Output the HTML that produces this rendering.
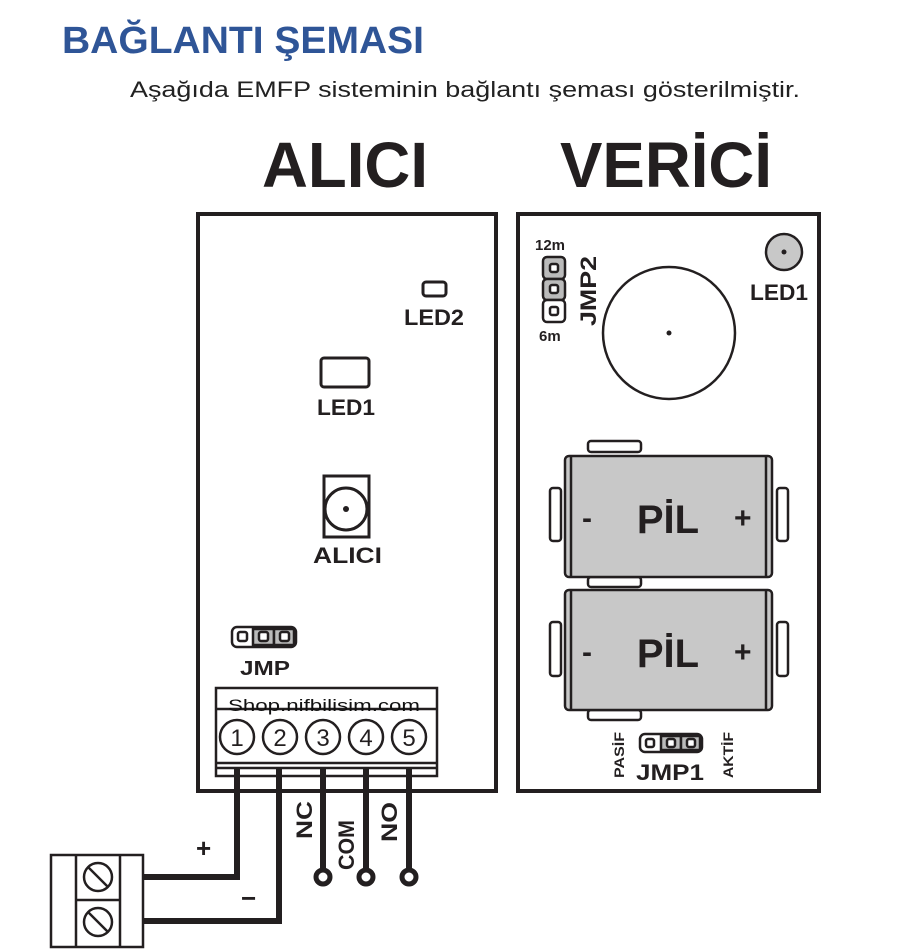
<!DOCTYPE html>
<html><head><meta charset="utf-8"><style>
html,body{margin:0;padding:0;background:#fff;}
svg{display:block}
text{font-family:"Liberation Sans",sans-serif;}
</style></head><body>
<svg width="906" height="950" viewBox="0 0 906 950" xmlns="http://www.w3.org/2000/svg">
<text x="62" y="53" font-size="38" font-weight="bold" fill="#2f5597" textLength="362" lengthAdjust="spacingAndGlyphs">BAĞLANTI ŞEMASI</text>
<text x="130" y="97" font-size="22" fill="#222" textLength="670" lengthAdjust="spacingAndGlyphs">Aşağıda EMFP sisteminin bağlantı şeması gösterilmiştir.</text>
<text x="262" y="187" font-size="64" font-weight="bold" fill="#231f20" textLength="166" lengthAdjust="spacingAndGlyphs">ALICI</text>
<text x="560" y="187" font-size="64" font-weight="bold" fill="#231f20" textLength="212" lengthAdjust="spacingAndGlyphs">VERİCİ</text>

<g stroke="#231f20" fill="none">
<rect x="198" y="214" width="298" height="577" stroke-width="4"/>
<rect x="518" y="214" width="301" height="577" stroke-width="4"/>
<!-- left components -->
<rect x="423" y="282" width="23" height="14" rx="3" stroke-width="3"/>
<rect x="321" y="358" width="48" height="29" rx="3" stroke-width="3"/>
<rect x="324" y="476" width="45" height="61" stroke-width="3"/>
<circle cx="346" cy="509" r="21" stroke-width="3"/>
</g>
<circle cx="346" cy="509" r="3" fill="#231f20"/>
<g font-weight="bold" fill="#231f20">
<text x="404" y="325" font-size="22" textLength="60" lengthAdjust="spacingAndGlyphs">LED2</text>
<text x="317" y="415" font-size="22" textLength="58" lengthAdjust="spacingAndGlyphs">LED1</text>
<text x="313" y="563" font-size="22" textLength="69" lengthAdjust="spacingAndGlyphs">ALICI</text>
<text x="240" y="675" font-size="20" textLength="50" lengthAdjust="spacingAndGlyphs">JMP</text>
</g>
<!-- JMP -->
<g stroke="#231f20" stroke-width="2.5">
<rect x="232" y="627" width="64" height="20" rx="5" fill="#fff"/>
<rect x="253" y="629" width="21" height="16" fill="#bbb"/>
<rect x="274" y="629" width="20" height="16" fill="#bbb"/>
<rect x="238" y="632" width="9" height="9" rx="2" fill="#fff"/>
<rect x="259" y="632" width="9" height="9" rx="2" fill="#fff"/>
<rect x="280" y="632" width="9" height="9" rx="2" fill="#fff"/>
</g>
<!-- terminal block -->
<g stroke="#231f20" fill="none" stroke-width="2.5">
<rect x="216" y="688" width="221" height="88" fill="#fff"/>
<line x1="216" y1="709" x2="437" y2="709"/>
<line x1="216" y1="763" x2="437" y2="763"/>
<line x1="216" y1="768" x2="437" y2="768"/>
<circle cx="237" cy="737" r="17"/><circle cx="280" cy="737" r="17"/><circle cx="323" cy="737" r="17"/><circle cx="366" cy="737" r="17"/><circle cx="409" cy="737" r="17"/>
</g>
<text x="228" y="711" font-size="17" fill="#111" textLength="192" lengthAdjust="spacingAndGlyphs">Shop.nifbilisim.com</text>
<g font-size="24" fill="#231f20" text-anchor="middle">
<text x="237" y="746">1</text><text x="280" y="746">2</text><text x="323" y="746">3</text><text x="366" y="746">4</text><text x="409" y="746">5</text>
</g>
<!-- wires -->
<g stroke="#231f20" stroke-width="6" fill="none">
<polyline points="237,768 237,877 143,877"/>
<polyline points="279,768 279,921 143,921"/>
<line x1="323" y1="768" x2="323" y2="870"/>
<line x1="366" y1="768" x2="366" y2="870"/>
<line x1="409" y1="768" x2="409" y2="870"/>
</g>
<g stroke="#231f20" stroke-width="5" fill="#fff">
<circle cx="323" cy="877" r="7"/><circle cx="366" cy="877" r="7"/><circle cx="409" cy="877" r="7"/>
</g>
<g font-weight="bold" fill="#231f20" font-size="22">
<text transform="translate(312,839) rotate(-90)" textLength="38" lengthAdjust="spacingAndGlyphs">NC</text>
<text transform="translate(354,870) rotate(-90)" textLength="50" lengthAdjust="spacingAndGlyphs">COM</text>
<text transform="translate(397,842) rotate(-90)" textLength="40" lengthAdjust="spacingAndGlyphs">NO</text>
<text x="196" y="857" font-size="26">+</text>
<text x="241" y="907" font-size="26">−</text>
</g>
<!-- left terminal -->
<g stroke="#231f20" stroke-width="2.5" fill="#fff">
<rect x="51" y="855" width="92" height="92"/>
<line x1="76" y1="855" x2="76" y2="947"/>
<line x1="120" y1="855" x2="120" y2="947"/>
<line x1="76" y1="900" x2="120" y2="900"/>
<circle cx="98" cy="877" r="14"/><circle cx="98" cy="922" r="14"/>
<line x1="88" y1="867" x2="108" y2="887"/><line x1="88" y1="912" x2="108" y2="932"/>
</g>

<!-- right components -->
<text x="535" y="250" font-size="15" font-weight="bold" fill="#231f20">12m</text>
<text x="539" y="341" font-size="15" font-weight="bold" fill="#231f20">6m</text>
<g stroke="#231f20" stroke-width="2.5">
<rect x="543" y="257" width="22" height="22" rx="4" fill="#bbb"/>
<rect x="543" y="279" width="22" height="21" rx="4" fill="#bbb"/>
<rect x="543" y="300" width="22" height="22" rx="4" fill="#fff"/>
<rect x="550" y="264" width="8" height="8" rx="2" fill="#fff"/>
<rect x="550" y="285" width="8" height="8" rx="2" fill="#fff"/>
<rect x="550" y="307" width="8" height="8" rx="2" fill="#fff"/>
</g>
<text transform="translate(596,326) rotate(-90)" font-size="22" font-weight="bold" fill="#231f20" textLength="70" lengthAdjust="spacingAndGlyphs">JMP2</text>
<circle cx="669" cy="333" r="66" fill="none" stroke="#231f20" stroke-width="2.5"/>
<circle cx="669" cy="333" r="2.5" fill="#231f20"/>
<circle cx="784" cy="252" r="18" fill="#c8c8c8" stroke="#231f20" stroke-width="2.5"/>
<circle cx="784" cy="252" r="2.5" fill="#231f20"/>
<text x="750" y="300" font-size="22" font-weight="bold" fill="#231f20" textLength="58" lengthAdjust="spacingAndGlyphs">LED1</text>

<!-- batteries -->
<g stroke="#231f20" stroke-width="2.5">
<rect x="588" y="441" width="53" height="11" rx="3" fill="#fff"/>
<rect x="588" y="577" width="53" height="10" rx="3" fill="#fff"/>
<rect x="588" y="710" width="53" height="10" rx="3" fill="#fff"/>
<rect x="550" y="488" width="11" height="53" rx="3" fill="#fff"/>
<rect x="777" y="488" width="11" height="53" rx="3" fill="#fff"/>
<rect x="550" y="622" width="11" height="54" rx="3" fill="#fff"/>
<rect x="777" y="622" width="11" height="54" rx="3" fill="#fff"/>
<rect x="565" y="456" width="207" height="121" rx="4" fill="#c8c8c8"/>
<rect x="565" y="590" width="207" height="120" rx="4" fill="#c8c8c8"/>
<line x1="571" y1="457" x2="571" y2="576"/><line x1="766" y1="457" x2="766" y2="576"/>
<line x1="571" y1="591" x2="571" y2="709"/><line x1="766" y1="591" x2="766" y2="709"/>
</g>
<g font-weight="bold" fill="#231f20">
<text x="668" y="533" font-size="40" text-anchor="middle">PİL</text>
<text x="668" y="667" font-size="40" text-anchor="middle">PİL</text>
<text x="582" y="528" font-size="30">-</text>
<text x="582" y="662" font-size="30">-</text>
<text x="734" y="528" font-size="30">+</text>
<text x="734" y="662" font-size="30">+</text>
</g>
<!-- JMP1 -->
<g stroke="#231f20" stroke-width="2.5">
<rect x="640" y="734" width="62" height="18" rx="5" fill="#fff"/>
<rect x="661" y="736" width="20" height="14" fill="#bbb"/>
<rect x="681" y="736" width="19" height="14" fill="#bbb"/>
<rect x="646" y="739" width="8" height="8" rx="2" fill="#fff"/>
<rect x="667" y="739" width="8" height="8" rx="2" fill="#fff"/>
<rect x="687" y="739" width="8" height="8" rx="2" fill="#fff"/>
</g>
<g font-weight="bold" fill="#231f20">
<text x="636" y="780" font-size="22" textLength="68" lengthAdjust="spacingAndGlyphs">JMP1</text>
<text transform="translate(624,778) rotate(-90)" font-size="14" textLength="46" lengthAdjust="spacingAndGlyphs">PASİF</text>
<text transform="translate(733,778) rotate(-90)" font-size="14" textLength="46" lengthAdjust="spacingAndGlyphs">AKTİF</text>
</g>
</svg>
</body></html>
